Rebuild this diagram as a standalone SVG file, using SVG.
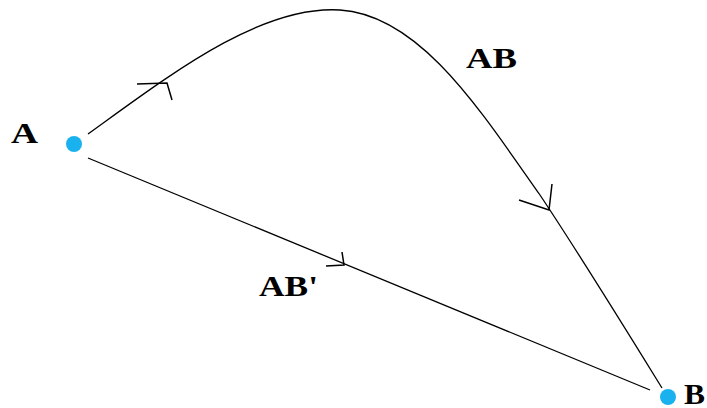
<svg xmlns="http://www.w3.org/2000/svg" width="707" height="408" viewBox="0 0 707 408">
<style>
.ln{fill:none;stroke:#000;stroke-width:1.3}
.ah{fill:none;stroke:#000;stroke-width:1.5}
.pt{fill:#1ab2ee}
.lb{font-family:"Liberation Serif",serif;font-weight:bold;font-size:30px;fill:#000}
</style>
<rect width="707" height="408" fill="#fff"/>
<g id="connectors">
<path id="curveAB" class="ln" d="M88,134 C170,75 260,5 340,10 C420,15 480,110 540,195 C580,255 620,320 662,388"/>
<path id="lineAB2" class="ln" d="M88,158 L650,390"/>
<path class="ah" d="M137,84 L167,83 L172,100"/>
<path class="ah" d="M519,200 L549,210 L552,184"/>
<path class="ah" d="M326,266 L344,265 L342,252"/>
</g>
<g id="A"><circle class="pt" cx="74" cy="144" r="8"/><text class="lb" x="11" y="143" textLength="27" lengthAdjust="spacingAndGlyphs">A</text></g>
<g id="B"><circle class="pt" cx="668" cy="397" r="8"/><text class="lb" x="684" y="404" textLength="21" lengthAdjust="spacingAndGlyphs">B</text></g>
<g id="labelAB"><text class="lb" x="466" y="68" textLength="51" lengthAdjust="spacingAndGlyphs">AB</text></g>
<g id="labelAB2"><text class="lb" x="259" y="296" textLength="59" lengthAdjust="spacingAndGlyphs">AB'</text></g>
</svg>
